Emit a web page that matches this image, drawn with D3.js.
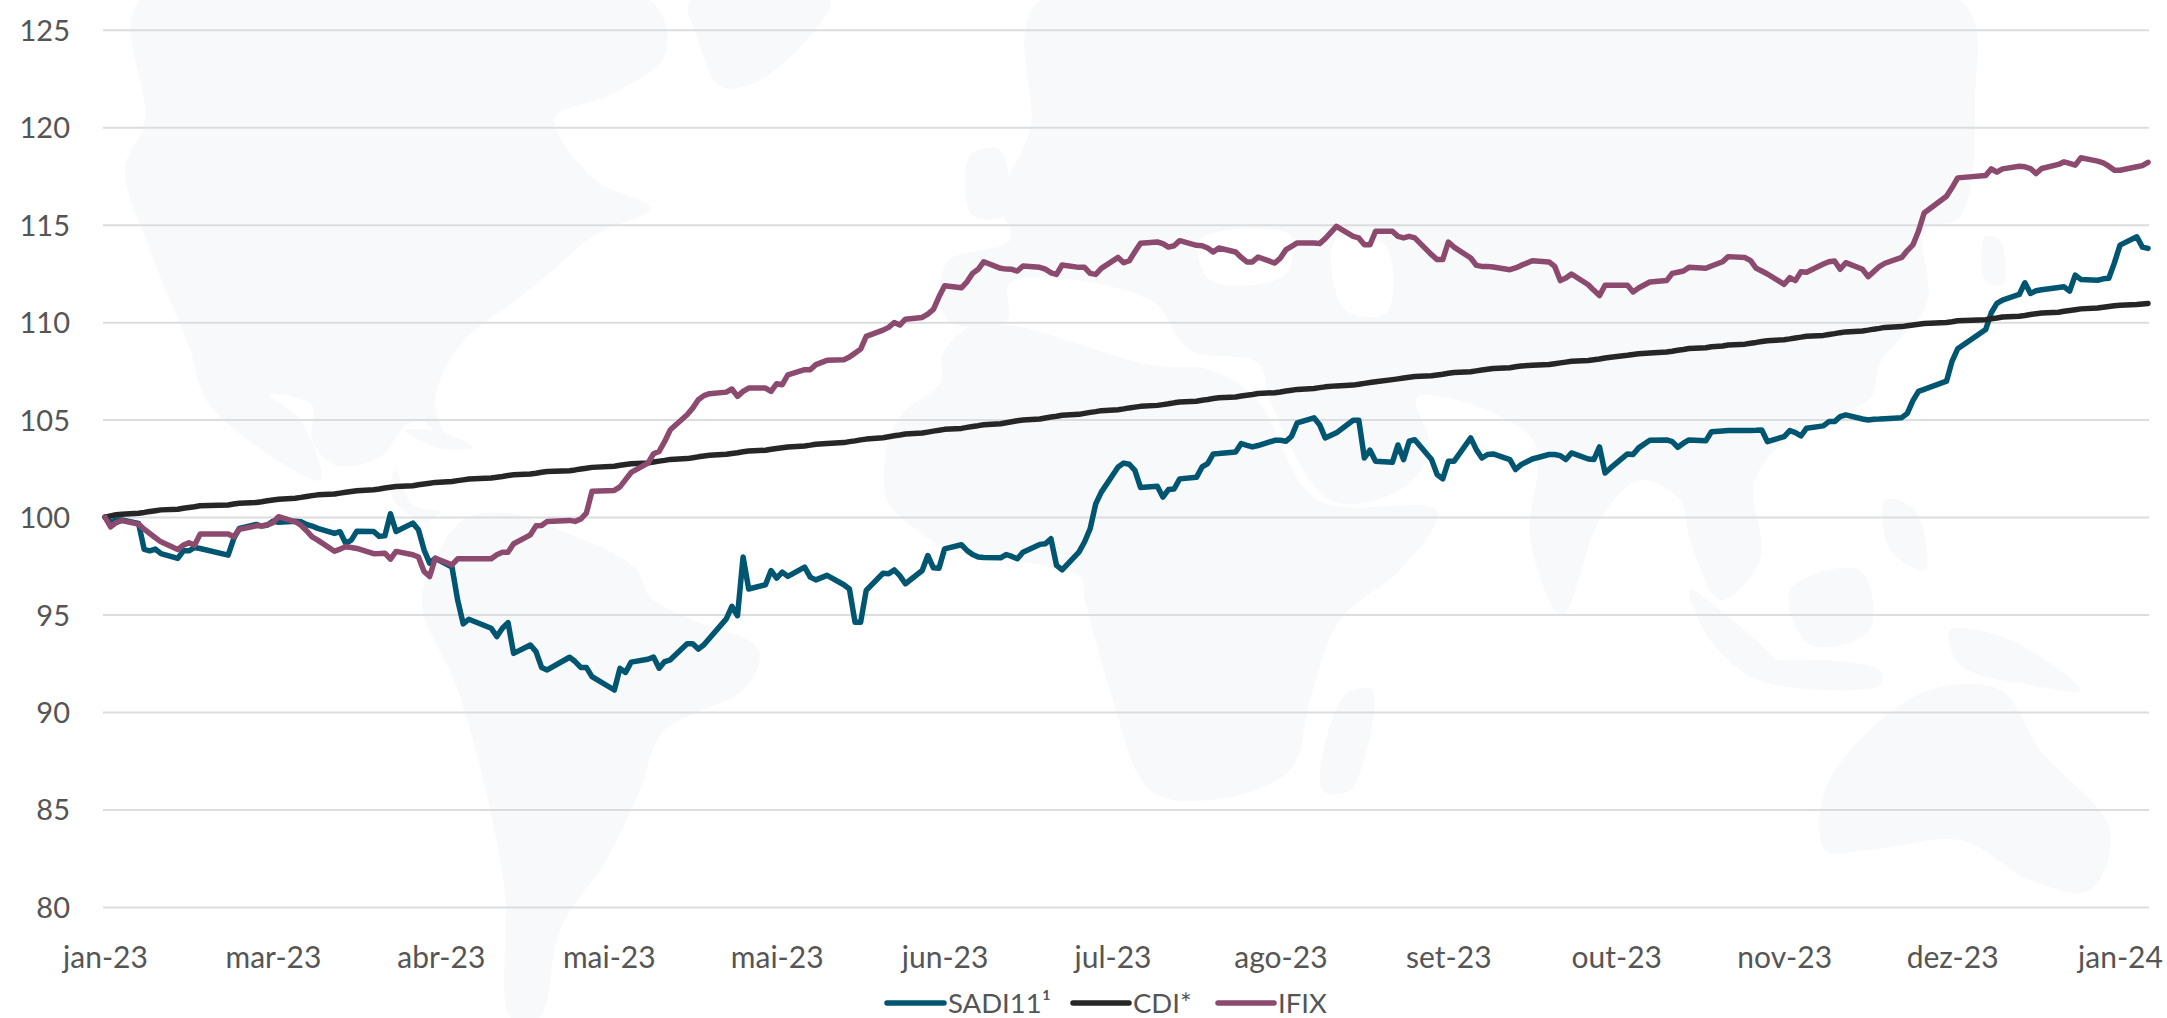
<!DOCTYPE html>
<html>
<head>
<meta charset="utf-8">
<script src="https://cdn.jsdelivr.net/npm/d3@7"></script>
<style>
    html, body { margin: 0; padding: 0; background: #fff; }
    text { font-family: "Lato", sans-serif; fill: #555; }
</style>
</head>
<body>
<div id="chart"></div>
<script>
    // weekdays without B3 session, the first chart date is 2023-01-31
    var holidays = ["2023-02-20", "2023-02-21", "2023-04-07", "2023-04-21", "2023-05-01", "2023-06-08",
        "2023-09-07", "2023-10-12", "2023-11-02", "2023-11-15", "2023-12-25", "2023-12-29", "2024-01-01"];
    var xLabels = ["jan-23", "mar-23", "abr-23", "mai-23", "mai-23", "jun-23", "jul-23",
        "ago-23", "set-23", "out-23", "nov-23", "dez-23", "jan-24"];
    var yTicks = [80, 85, 90, 95, 100, 105, 110, 115, 120, 125];
    var names = ["SADI11¹", "CDI*", "IFIX"];

    // one row per week
    var sadi = [
        100.00, 99.76, 99.85, 99.85,
        99.67, 98.34, 98.27, 98.36, 98.13,
        97.88, 98.27, 98.27, 98.44, 98.39,
        98.05, 98.90, 99.42,
        99.62, 99.54, 99.59, 99.79, 99.73,
        99.79, 99.76, 99.62, 99.54, 99.42,
        99.16, 99.25, 98.65, 98.82, 99.28,
        99.26, 99.01, 99.04, 100.17, 99.26,
        99.69, 99.35, 98.32, 97.64, 97.89,
        97.43, 95.75, 94.52, 94.76,
        94.30, 93.87, 94.30, 94.59, 93.01,
        93.44, 93.10, 92.29, 92.16,
        92.81, 92.59, 92.29, 92.29, 91.82,
        91.13, 92.24, 92.03, 92.56,
        92.71, 92.82, 92.25, 92.59, 92.68,
        93.50, 93.50, 93.23, 93.45, 93.79,
        94.78, 95.42, 94.94, 97.95, 96.31,
        96.53, 97.26, 96.87, 97.18, 96.96,
        97.43, 96.92, 96.78, 97.01,
        96.53, 96.31, 94.60, 94.60, 96.24,
        97.12, 97.09, 97.29, 97.00, 96.58,
        97.26, 98.03, 97.40, 97.38, 98.37,
        98.58, 98.29, 98.08, 97.95, 97.93,
        97.91, 98.08, 97.98, 97.86, 98.20,
        98.60, 98.63, 98.89, 97.52, 97.29,
        98.20, 98.72, 99.40, 100.68, 101.28,
        102.57, 102.77, 102.71, 102.40, 101.52,
        101.58, 101.03, 101.41, 101.44, 101.96,
        102.04, 102.57, 102.74, 103.24, 103.26,
        103.34, 103.77, 103.68, 103.60, 103.67,
        103.94, 103.94, 103.89, 104.15, 104.83,
        105.09, 104.74, 104.06, 104.32,
        104.97, 104.97, 103.03, 103.43, 102.86,
        102.81, 103.70, 102.95, 103.89, 103.97,
        102.95, 102.18, 101.96, 102.86, 102.86,
        104.06, 103.46, 103.03, 103.21, 103.24,
        102.95, 102.44, 102.69, 102.98,
        103.21, 103.21, 103.15, 102.95, 103.29,
        102.98, 102.95, 103.60, 102.26, 102.52,
        103.24, 103.21, 103.55, 103.94,
        103.96, 103.87, 103.58, 103.79, 103.96,
        103.91, 104.38, 104.42, 104.44,
        104.44, 104.44, 104.45, 104.47, 103.87,
        104.13, 104.44, 104.33, 104.16, 104.56,
        104.68, 104.90, 104.90, 105.15, 105.24,
        105.03, 104.98, 105.02, 105.03, 105.05,
        105.10, 105.32, 105.97, 106.45, 106.55,
        106.97, 108.00, 108.63,
        109.62, 110.48, 110.96, 111.13,
        111.42, 112.02, 111.47, 111.61, 111.66,
        111.78, 111.81, 111.59, 112.41, 112.19,
        112.15, 112.22, 112.25, 113.04, 113.95,
        114.38, 113.85, 113.78
    ];
    var cdi = [
        100.00, 100.06, 100.12, 100.15,
        100.20, 100.24, 100.29, 100.33, 100.37,
        100.40, 100.45, 100.49, 100.53, 100.58,
        100.62, 100.67, 100.71,
        100.75, 100.79, 100.84, 100.88, 100.92,
        100.97, 101.01, 101.06, 101.10, 101.14,
        101.18, 101.23, 101.27, 101.31, 101.35,
        101.40, 101.44, 101.49, 101.53, 101.57,
        101.61, 101.66, 101.70, 101.74, 101.78,
        101.83, 101.87, 101.91, 101.95,
        102.00, 102.04, 102.08, 102.13, 102.17,
        102.21, 102.25, 102.30, 102.34,
        102.38, 102.42, 102.47, 102.51, 102.55,
        102.61, 102.66, 102.70, 102.74,
        102.78, 102.83, 102.87, 102.91, 102.96,
        103.00, 103.04, 103.09, 103.13, 103.17,
        103.22, 103.26, 103.30, 103.35, 103.39,
        103.43, 103.48, 103.52, 103.56, 103.60,
        103.65, 103.69, 103.74, 103.78,
        103.82, 103.87, 103.91, 103.96, 104.00,
        104.07, 104.12, 104.17, 104.21, 104.26,
        104.31, 104.36, 104.41, 104.45, 104.50,
        104.55, 104.60, 104.65, 104.69, 104.74,
        104.79, 104.84, 104.89, 104.94, 104.98,
        105.03, 105.08, 105.13, 105.17, 105.22,
        105.27, 105.32, 105.37, 105.41, 105.46,
        105.51, 105.55, 105.60, 105.64, 105.68,
        105.73, 105.77, 105.81, 105.86, 105.90,
        105.94, 105.99, 106.03, 106.08, 106.12,
        106.16, 106.21, 106.25, 106.29, 106.34,
        106.38, 106.42, 106.47, 106.51, 106.55,
        106.60, 106.64, 106.68, 106.73,
        106.77, 106.81, 106.86, 106.90, 106.94,
        107.05, 107.09, 107.13, 107.17, 107.21,
        107.25, 107.29, 107.33, 107.38, 107.42,
        107.46, 107.50, 107.54, 107.58, 107.62,
        107.66, 107.71, 107.75, 107.79,
        107.83, 107.87, 107.91, 107.95, 107.99,
        108.03, 108.07, 108.11, 108.16, 108.20,
        108.30, 108.34, 108.38, 108.42,
        108.47, 108.51, 108.56, 108.60, 108.65,
        108.69, 108.74, 108.78, 108.83,
        108.87, 108.92, 108.96, 109.01, 109.05,
        109.10, 109.14, 109.19, 109.23, 109.28,
        109.32, 109.37, 109.41, 109.46, 109.50,
        109.55, 109.59, 109.64, 109.68, 109.73,
        109.77, 109.81, 109.85, 109.89, 109.93,
        109.98, 110.02, 110.07,
        110.12, 110.17, 110.21, 110.26,
        110.30, 110.34, 110.39, 110.43, 110.47,
        110.51, 110.56, 110.60, 110.64, 110.68,
        110.72, 110.76, 110.80, 110.84, 110.87,
        110.90, 110.93, 110.96
    ];
    var ifix = [
        100.00, 99.50, 99.72, 99.82,
        99.64, 99.38, 99.16, 98.94, 98.73,
        98.34, 98.56, 98.68, 98.56, 99.13,
        99.13, 98.99, 99.37,
        99.55, 99.55, 99.59, 99.71, 100.02,
        99.76, 99.58, 99.30, 98.99, 98.82,
        98.25, 98.36, 98.48, 98.44, 98.39,
        98.12, 98.13, 98.15, 97.84, 98.24,
        98.07, 97.95, 97.21, 96.95, 97.89,
        97.55, 97.86, 97.86, 97.86,
        97.86, 98.07, 98.20, 98.20, 98.63,
        99.09, 99.55, 99.57, 99.78,
        99.83, 99.78, 99.90, 100.20, 101.32,
        101.37, 101.55, 101.92, 102.29,
        102.77, 103.25, 103.37, 103.88, 104.48,
        105.25, 105.59, 106.02, 106.23, 106.33,
        106.41, 106.57, 106.19, 106.45, 106.62,
        106.62, 106.45, 106.84, 106.79, 107.30,
        107.56, 107.56, 107.82, 108.04,
        108.07, 108.21, 108.41, 108.62, 109.27,
        109.59, 109.73, 109.98, 109.85, 110.15,
        110.24, 110.41, 110.65, 111.30, 111.87,
        111.76, 112.07, 112.50, 112.71, 113.10,
        112.76, 112.72, 112.71, 112.62, 112.88,
        112.81, 112.72, 112.53, 112.45, 112.93,
        112.81, 112.81, 112.50, 112.45, 112.76,
        113.32, 113.05, 113.15, 113.61, 114.05,
        114.11, 114.03, 113.85, 113.92, 114.18,
        113.94, 113.92, 113.80, 113.60, 113.80,
        113.60, 113.32, 113.09, 113.09, 113.34,
        113.03, 113.29, 113.72, 113.89, 114.06,
        114.06, 114.03, 114.28, 114.91,
        114.40, 114.32, 113.97, 113.97, 114.66,
        114.66, 114.40, 114.32, 114.40, 114.32,
        113.46, 113.21, 113.21, 114.11, 113.85,
        113.29, 112.91, 112.86, 112.86, 112.83,
        112.69, 112.78, 112.91, 113.15,
        113.09, 112.86, 112.13, 112.26, 112.47,
        111.92, 111.63, 111.36, 111.89, 111.89,
        111.89, 111.55, 111.75, 112.06,
        112.13, 112.50, 112.56, 112.62, 112.81,
        112.76, 112.88, 113.10, 113.36,
        113.31, 113.15, 112.76, 112.62, 112.47,
        111.94, 112.28, 112.13, 112.59, 112.56,
        112.98, 113.10, 113.14, 112.71, 113.05,
        112.71, 112.33, 112.59, 112.85, 113.02,
        113.32, 113.67, 113.96, 114.67, 115.60,
        116.46, 116.90, 117.40,
        117.52, 117.86, 117.69, 117.86,
        118.00, 117.97, 117.88, 117.62, 117.88,
        118.09, 118.22, 118.14, 118.05, 118.43,
        118.26, 118.17, 118.00, 117.79, 117.79,
        117.97, 118.03, 118.20
    ];

    // world map in the background, page pixels, rough outline only
    var landShapes = [
        [[140,0],[650,0],[665,55],[610,95],[555,118],[595,180],[650,208],[595,235],[545,277],[520,297],[460,345],[435,400],[445,440],[420,420],[404,427],[380,457],[335,465],[312,440],[312,405],[270,395],[300,420],[321,480],[252,443],[206,400],[190,350],[150,250],[125,170],[145,120]],
        [[404,430],[440,432],[473,447],[440,448]],
        [[395,470],[413,505],[440,512],[425,522],[392,497]],
        [[463,520],[507,513],[567,533],[620,557],[637,570],[650,597],[693,620],[753,643],[760,657],[743,690],[663,732],[640,790],[608,857],[560,930],[539,1018],[511,1018],[504,884],[459,693],[422,607],[430,570]],
        [[690,0],[830,0],[815,30],[755,83],[720,86],[698,40]],
        [[970,155],[1000,150],[1005,215],[972,215]],
        [[1040,0],[1960,0],[1975,100],[1960,217],[1925,230],[1927,303],[1880,363],[1871,397],[1800,430],[1755,480],[1760,560],[1720,600],[1690,540],[1680,500],[1640,480],[1600,520],[1562,615],[1530,540],[1533,440],[1417,397],[1430,450],[1400,490],[1330,500],[1270,400],[1258,363],[1190,350],[1150,300],[1010,283],[1007,320],[947,320],[947,262],[1010,240],[1000,200],[1030,130]],
        [[970,327],[1010,325],[1150,365],[1210,370],[1257,400],[1317,500],[1437,511],[1400,570],[1340,620],[1310,700],[1290,770],[1210,800],[1150,790],[1110,690],[1085,600],[1080,577],[950,550],[917,530],[887,500],[887,447],[903,413],[940,383],[943,353]],
        [[1345,695],[1372,690],[1350,790],[1322,790]],
        [[1690,590],[1720,610],[1780,670],[1760,680],[1710,640]],
        [[1790,590],[1860,570],[1870,630],[1810,645]],
        [[1750,665],[1880,670],[1880,685],[1760,680]],
        [[1885,500],[1915,510],[1925,570],[1890,550]],
        [[1950,630],[2010,640],[2080,690],[2030,685],[1960,665]],
        [[1985,237],[2000,240],[2003,285],[1985,280]],
        [[1825,790],[1870,730],[1930,690],[2000,690],[2040,750],[2110,830],[2090,890],[2030,880],[1960,840],[1870,850],[1825,850]]
    ];
    var seaShapes = [
        [[1200,240],[1290,235],[1285,275],[1210,280]],
        [[1335,240],[1385,245],[1387,312],[1345,310]]
    ];

    var width = 2167;
    var height = 1018;
    var gridLeft = 103, gridRight = 2149, gridTop = 29.7, gridBottom = 907;

    var startDate = new Date(2023, 0, 31);
    var endDate = new Date(2024, 0, 31);
    var isoDay = d3.timeFormat("%Y-%m-%d");

    var dates = d3.timeDay.range(startDate, d3.timeDay.offset(endDate, 1)).filter(function (d) {
        return d.getDay() != 0 && d.getDay() != 6 && holidays.indexOf(isoDay(d)) < 0;
    });

    var x = d3.scaleTime().domain([startDate, endDate]).range([105, 2148]);
    var y = d3.scaleLinear().domain([80, 125]).range([gridBottom, gridTop]);

    var svg = d3.select("#chart").append("svg")
        .attr("width", width)
        .attr("height", height)
        .style("display", "block");

    var shape = d3.line().curve(d3.curveCatmullRomClosed.alpha(0.5));

    svg.append("g").selectAll("path")
        .data(landShapes)
        .enter().append("path")
        .attr("d", shape)
        .attr("fill", "#f8f9fb");

    svg.append("g").selectAll("path")
        .data(seaShapes)
        .enter().append("path")
        .attr("d", shape)
        .attr("fill", "#fff");

    // y axis with the grid
    var yAxis = svg.append("g")
        .attr("transform", "translate(" + gridLeft + ",0)")
        .call(d3.axisLeft(y).tickValues(yTicks).tickSize(-(gridRight - gridLeft)).tickPadding(33));
    yAxis.select(".domain").remove();
    yAxis.selectAll("line").attr("stroke", "#dcdddf").attr("stroke-width", 2);
    yAxis.selectAll("text").style("font-size", "29px").attr("dy", "0.36em");

    // a tick every 30 days
    var xTickDates = xLabels.map(function (label, i) {
        return d3.timeDay.offset(startDate, i * 30);
    });
    var xAxis = svg.append("g")
        .attr("transform", "translate(0,947)")
        .call(d3.axisBottom(x).tickValues(xTickDates).tickSize(0).tickPadding(0).tickFormat(function (d, i) {
            return xLabels[i];
        }));
    xAxis.select(".domain").remove();
    xAxis.selectAll("text").style("font-size", "30px").attr("dy", "0.71em").attr("y", 0);

    var line = d3.line()
        .x(function (d, i) { return x(dates[i]); })
        .y(function (d) { return y(d); });

    var series = [
        {name: names[0], values: sadi, color: "#005670", x1: 887, x2: 944, tx: 948},
        {name: names[1], values: cdi, color: "#262626", x1: 1073, x2: 1129, tx: 1133},
        {name: names[2], values: ifix, color: "#8b4a6e", x1: 1218, x2: 1274, tx: 1278}
    ];

    svg.append("g").selectAll("path")
        .data(series)
        .enter().append("path")
        .attr("fill", "none")
        .attr("stroke", function (d) { return d.color; })
        .attr("stroke-width", 5.5)
        .attr("stroke-linejoin", "round")
        .attr("stroke-linecap", "round")
        .attr("d", function (d) { return line(d.values); });

    var legend = svg.append("g").selectAll("g")
        .data(series)
        .enter().append("g");
    legend.append("line")
        .attr("x1", function (d) { return d.x1; })
        .attr("x2", function (d) { return d.x2; })
        .attr("y1", 1003)
        .attr("y2", 1003)
        .attr("stroke", function (d) { return d.color; })
        .attr("stroke-width", 5.5)
        .attr("stroke-linecap", "round");
    legend.append("text")
        .attr("x", function (d) { return d.tx; })
        .attr("y", 1013)
        .style("font-size", "27.5px")
        .text(function (d) { return d.name; });
</script>
</body>
</html>
